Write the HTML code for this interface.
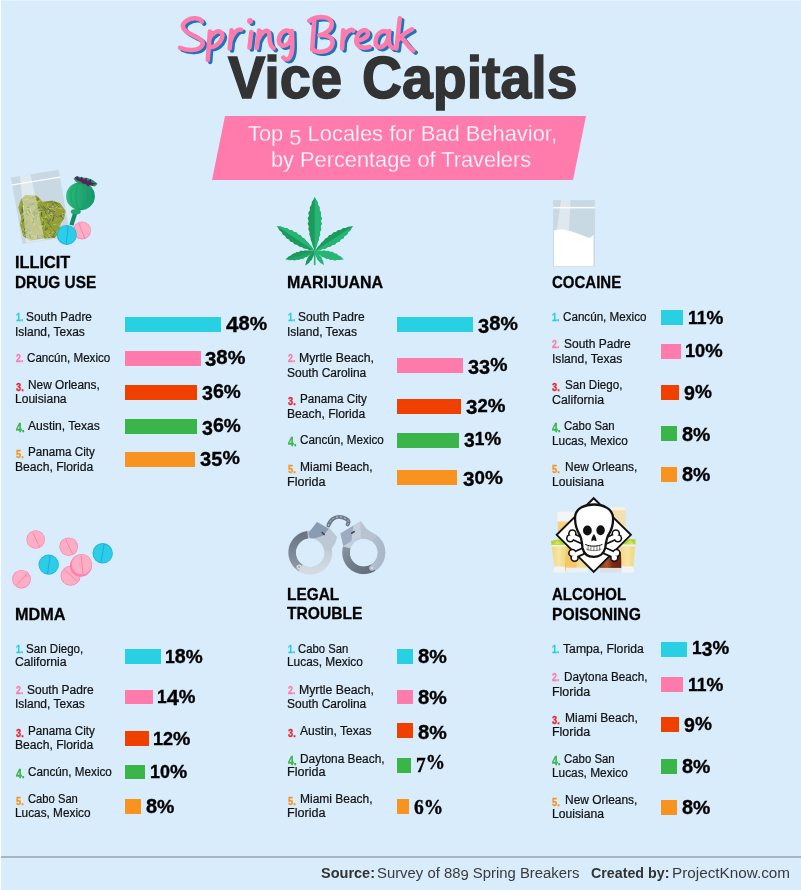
<!DOCTYPE html>
<html><head><meta charset="utf-8"><title>Spring Break Vice Capitals</title>
<style>
html,body{margin:0;padding:0}
body{width:801px;height:890px;position:relative;overflow:hidden;background:#d8ecfb;font-family:"Liberation Sans",sans-serif}
#txt{position:absolute;left:0;top:0;width:801px;height:890px;will-change:transform}
.t{position:absolute;white-space:nowrap;line-height:1;transform-origin:0 0;font-family:"Liberation Sans",sans-serif}
.t span{line-height:0}
.n{font-size:9px;font-weight:700;-webkit-text-stroke:0.3px currentColor;transform:scaleX(.88)}
.b{position:absolute}
.ic{position:absolute;left:0;top:0}
#edgeL{position:absolute;left:0;top:0;width:1px;height:890px;background:#fff}
#edgeT{position:absolute;left:0;top:0;width:801px;height:1px;background:#e6f3fd}
#rule{position:absolute;left:1px;top:856px;width:800px;height:2px;background:#a7b5c3}
#banner{position:absolute;left:0;top:0}
</style></head><body>
<div id="edgeT"></div><div id="edgeL"></div>
<svg id="banner" width="801" height="200" viewBox="0 0 801 200"><polygon points="225,116 586,116 573,180 212,180" fill="#ff7bac"/></svg>
<svg class="ic" width="801" height="120" viewBox="0 0 801 120" fill="none" stroke-linecap="round" stroke-linejoin="round">
<g transform="translate(2.4,2.0)" stroke="#1c75bc" stroke-width="4.5"><path d="M 201.8,21.6 C 200.0,17.7 191.9,16.7 185.9,21.2 C 180.5,25.3 182.7,29.7 189.8,33.6 C 197.9,37.8 205.4,40.4 201.8,45.9 C 198.6,51.3 186.2,50.8 180.1,47.8 M 209.9,31.5 L 207.8,59.9 M 209.4,39.1 C 211.9,32.9 218.7,29.0 221.6,32.9 C 224.5,37.5 218.7,46.5 209.4,47.5 M 231.5,30.3 L 229.7,48.5 M 230.4,41.0 C 232.3,34.5 237.2,28.0 241.1,29.7 M 251.3,31.9 L 249.5,47.5 M 259.1,30.6 L 256.8,48.0 M 257.6,41.0 C 260.1,34.2 266.1,28.0 268.7,31.9 C 270.6,35.5 267.7,44.8 273.5,48.2 M 290.6,32.9 C 287.2,28.0 280.4,31.6 279.1,38.4 C 277.8,45.2 283.9,48.2 288.5,43.3 C 291.1,40.1 291.7,35.8 292.0,31.0 C 292.0,40.7 293.7,52.4 289.5,57.9 C 287.8,60.2 284.6,59.5 283.3,57.6 M 309.3,20.9 C 316.1,16.0 330.1,15.1 331.7,22.9 C 332.8,29.3 325.8,33.6 319.3,35.2 C 327.5,34.2 334.3,37.5 332.2,44.9 C 329.9,52.4 317.7,53.7 312.4,49.1 M 314.3,19.9 L 312.2,49.5 M 343.2,30.3 L 342.1,48.5 M 342.4,41.0 C 344.5,34.2 349.5,27.7 353.3,30.6 M 357.0,40.5 C 363.2,40.1 369.0,36.8 367.7,32.3 C 366.4,28.4 359.9,29.3 357.0,36.8 C 354.2,44.3 359.9,49.8 369.5,46.9 M 388.0,33.1 C 384.3,28.4 377.0,32.6 375.8,40.1 C 374.5,47.5 381.0,49.8 385.9,43.3 C 388.0,40.1 388.8,35.8 389.3,31.0 C 388.3,39.4 388.3,47.7 393.8,48.0 M 399.8,18.3 L 396.4,48.5 M 412.0,29.3 C 407.0,31.8 400.5,36.8 397.9,40.1 M 401.3,37.3 C 405.4,41.0 408.6,47.5 413.3,50.6"/><circle cx="250.0" cy="20.9" r="1.2" fill="#1c75bc" stroke-width="3.6"/></g>
<g stroke="#ff7bac" stroke-width="4.5"><path d="M 201.8,21.6 C 200.0,17.7 191.9,16.7 185.9,21.2 C 180.5,25.3 182.7,29.7 189.8,33.6 C 197.9,37.8 205.4,40.4 201.8,45.9 C 198.6,51.3 186.2,50.8 180.1,47.8 M 209.9,31.5 L 207.8,59.9 M 209.4,39.1 C 211.9,32.9 218.7,29.0 221.6,32.9 C 224.5,37.5 218.7,46.5 209.4,47.5 M 231.5,30.3 L 229.7,48.5 M 230.4,41.0 C 232.3,34.5 237.2,28.0 241.1,29.7 M 251.3,31.9 L 249.5,47.5 M 259.1,30.6 L 256.8,48.0 M 257.6,41.0 C 260.1,34.2 266.1,28.0 268.7,31.9 C 270.6,35.5 267.7,44.8 273.5,48.2 M 290.6,32.9 C 287.2,28.0 280.4,31.6 279.1,38.4 C 277.8,45.2 283.9,48.2 288.5,43.3 C 291.1,40.1 291.7,35.8 292.0,31.0 C 292.0,40.7 293.7,52.4 289.5,57.9 C 287.8,60.2 284.6,59.5 283.3,57.6 M 309.3,20.9 C 316.1,16.0 330.1,15.1 331.7,22.9 C 332.8,29.3 325.8,33.6 319.3,35.2 C 327.5,34.2 334.3,37.5 332.2,44.9 C 329.9,52.4 317.7,53.7 312.4,49.1 M 314.3,19.9 L 312.2,49.5 M 343.2,30.3 L 342.1,48.5 M 342.4,41.0 C 344.5,34.2 349.5,27.7 353.3,30.6 M 357.0,40.5 C 363.2,40.1 369.0,36.8 367.7,32.3 C 366.4,28.4 359.9,29.3 357.0,36.8 C 354.2,44.3 359.9,49.8 369.5,46.9 M 388.0,33.1 C 384.3,28.4 377.0,32.6 375.8,40.1 C 374.5,47.5 381.0,49.8 385.9,43.3 C 388.0,40.1 388.8,35.8 389.3,31.0 C 388.3,39.4 388.3,47.7 393.8,48.0 M 399.8,18.3 L 396.4,48.5 M 412.0,29.3 C 407.0,31.8 400.5,36.8 397.9,40.1 M 401.3,37.3 C 405.4,41.0 408.6,47.5 413.3,50.6"/><circle cx="250.0" cy="20.9" r="1.2" fill="#ff7bac" stroke-width="3.6"/></g>
</svg>
<svg class="ic" width="801" height="890" viewBox="0 0 801 890"><polygon points="11.0,177.5 58.7,169.7 70.4,236.4 22.5,243.9" fill="#c9d9e4"/><clipPath id="wc"><polygon points="25.0,195.6 36.8,196.0 42.5,202.2 52.4,201.0 59.9,203.5 65.2,210.9 63.7,218.7 60.2,223.7 58.9,232.4 54.9,237.4 42.5,238.2 30.0,240.2 23.7,236.2 20.6,224.9 21.5,217.4 18.7,207.4 21.2,200.0"/></clipPath><polygon points="25.0,195.6 36.8,196.0 42.5,202.2 52.4,201.0 59.9,203.5 65.2,210.9 63.7,218.7 60.2,223.7 58.9,232.4 54.9,237.4 42.5,238.2 30.0,240.2 23.7,236.2 20.6,224.9 21.5,217.4 18.7,207.4 21.2,200.0" fill="#949f3a" stroke="#949f3a" stroke-width="0.8" stroke-linejoin="round"/><g clip-path="url(#wc)" stroke-linecap="round"><line x1="33.7" y1="202.3" x2="32.6" y2="204.4" stroke="#6c8230" stroke-width="1.0"/><line x1="45.7" y1="235.9" x2="47.6" y2="237.5" stroke="#b4bc52" stroke-width="1.0"/><line x1="22.9" y1="214.4" x2="20.7" y2="215.7" stroke="#a3ad45" stroke-width="1.0"/><line x1="45.7" y1="198.3" x2="45.0" y2="200.6" stroke="#4f6a2e" stroke-width="1.0"/><line x1="58.4" y1="208.4" x2="60.7" y2="209.5" stroke="#a3ad45" stroke-width="1.0"/><line x1="27.1" y1="221.4" x2="25.7" y2="224.3" stroke="#5f7a2a" stroke-width="1.0"/><line x1="44.8" y1="223.0" x2="44.8" y2="226.7" stroke="#c0c66a" stroke-width="1.0"/><line x1="45.8" y1="215.7" x2="48.4" y2="219.3" stroke="#b4bc52" stroke-width="1.0"/><line x1="22.5" y1="208.9" x2="22.6" y2="212.1" stroke="#4f6a2e" stroke-width="1.0"/><line x1="64.0" y1="200.8" x2="65.1" y2="205.0" stroke="#c0c66a" stroke-width="1.0"/><line x1="38.2" y1="238.2" x2="41.9" y2="239.1" stroke="#6c8230" stroke-width="1.0"/><line x1="34.4" y1="211.1" x2="34.5" y2="215.5" stroke="#5f7a2a" stroke-width="1.0"/><line x1="62.4" y1="216.6" x2="61.2" y2="218.7" stroke="#a3ad45" stroke-width="1.0"/><line x1="45.4" y1="225.8" x2="46.1" y2="229.9" stroke="#6c8230" stroke-width="1.0"/><line x1="19.8" y1="216.0" x2="22.0" y2="217.3" stroke="#76648a" stroke-width="1.0"/><line x1="54.2" y1="201.3" x2="56.6" y2="203.6" stroke="#5f7a2a" stroke-width="1.0"/><line x1="26.4" y1="213.4" x2="28.1" y2="215.4" stroke="#4f6a2e" stroke-width="1.0"/><line x1="31.6" y1="214.0" x2="33.6" y2="218.2" stroke="#b4bc52" stroke-width="1.0"/><line x1="22.6" y1="202.3" x2="21.5" y2="204.3" stroke="#b4bc52" stroke-width="1.0"/><line x1="30.9" y1="195.8" x2="31.7" y2="198.9" stroke="#b4bc52" stroke-width="1.0"/><line x1="50.6" y1="218.4" x2="49.1" y2="222.3" stroke="#76648a" stroke-width="1.0"/><line x1="60.3" y1="230.2" x2="56.2" y2="231.9" stroke="#c0c66a" stroke-width="1.0"/><line x1="36.9" y1="216.9" x2="37.8" y2="219.6" stroke="#c0c66a" stroke-width="1.0"/><line x1="26.2" y1="210.7" x2="28.4" y2="211.0" stroke="#5f7a2a" stroke-width="1.0"/><line x1="62.6" y1="222.8" x2="65.3" y2="223.4" stroke="#a3ad45" stroke-width="1.0"/><line x1="30.4" y1="211.0" x2="31.5" y2="213.3" stroke="#c0c66a" stroke-width="1.0"/><line x1="40.9" y1="209.4" x2="44.8" y2="211.3" stroke="#c0c66a" stroke-width="1.0"/><line x1="57.0" y1="202.7" x2="61.9" y2="203.1" stroke="#b4bc52" stroke-width="1.0"/><line x1="50.6" y1="236.1" x2="48.4" y2="238.2" stroke="#5f7a2a" stroke-width="1.0"/><line x1="50.9" y1="207.2" x2="52.0" y2="209.6" stroke="#4f6a2e" stroke-width="1.0"/><line x1="43.7" y1="217.9" x2="42.1" y2="221.4" stroke="#b4bc52" stroke-width="1.0"/><line x1="56.0" y1="231.9" x2="54.0" y2="233.9" stroke="#6c8230" stroke-width="1.0"/><line x1="52.5" y1="239.4" x2="49.7" y2="241.6" stroke="#4f6a2e" stroke-width="1.0"/><line x1="62.9" y1="215.4" x2="58.1" y2="216.4" stroke="#6c8230" stroke-width="1.0"/><line x1="22.5" y1="200.1" x2="22.8" y2="203.3" stroke="#4f6a2e" stroke-width="1.0"/><line x1="57.6" y1="216.8" x2="55.5" y2="220.8" stroke="#a3ad45" stroke-width="1.0"/><line x1="24.3" y1="212.8" x2="22.5" y2="215.0" stroke="#c0c66a" stroke-width="1.0"/><line x1="55.2" y1="210.3" x2="51.2" y2="213.2" stroke="#c0c66a" stroke-width="1.0"/><line x1="53.1" y1="199.4" x2="57.4" y2="201.7" stroke="#76648a" stroke-width="1.0"/><line x1="46.0" y1="216.2" x2="44.2" y2="219.7" stroke="#c0c66a" stroke-width="1.0"/><line x1="49.1" y1="211.1" x2="48.7" y2="213.7" stroke="#76648a" stroke-width="1.0"/><line x1="63.6" y1="224.4" x2="63.2" y2="229.2" stroke="#b4bc52" stroke-width="1.0"/><line x1="56.9" y1="204.9" x2="59.0" y2="207.1" stroke="#4f6a2e" stroke-width="1.0"/><line x1="33.8" y1="219.7" x2="31.7" y2="220.9" stroke="#c0c66a" stroke-width="1.0"/><line x1="49.3" y1="231.7" x2="49.1" y2="236.2" stroke="#b4bc52" stroke-width="1.0"/><line x1="43.3" y1="218.8" x2="46.7" y2="219.0" stroke="#5f7a2a" stroke-width="1.0"/><line x1="54.6" y1="202.2" x2="58.1" y2="203.9" stroke="#5f7a2a" stroke-width="1.0"/><line x1="33.8" y1="218.6" x2="33.0" y2="222.9" stroke="#4f6a2e" stroke-width="1.0"/><line x1="21.4" y1="204.1" x2="23.9" y2="204.4" stroke="#5f7a2a" stroke-width="1.0"/><line x1="53.8" y1="236.0" x2="54.5" y2="239.9" stroke="#4f6a2e" stroke-width="1.0"/><line x1="27.9" y1="207.9" x2="27.8" y2="212.3" stroke="#b4bc52" stroke-width="1.0"/><line x1="51.0" y1="234.4" x2="48.1" y2="235.0" stroke="#b4bc52" stroke-width="1.0"/><line x1="57.5" y1="201.7" x2="60.7" y2="203.0" stroke="#b4bc52" stroke-width="1.0"/><line x1="38.5" y1="205.0" x2="40.0" y2="207.1" stroke="#a3ad45" stroke-width="1.0"/><line x1="48.5" y1="211.8" x2="50.3" y2="213.7" stroke="#a3ad45" stroke-width="1.0"/><line x1="62.7" y1="213.2" x2="62.9" y2="218.2" stroke="#b4bc52" stroke-width="1.0"/><line x1="51.4" y1="239.6" x2="52.4" y2="242.9" stroke="#5f7a2a" stroke-width="1.0"/><line x1="52.1" y1="196.5" x2="51.5" y2="199.9" stroke="#76648a" stroke-width="1.0"/><line x1="34.0" y1="223.2" x2="34.0" y2="225.7" stroke="#b4bc52" stroke-width="1.0"/><line x1="63.6" y1="200.2" x2="65.2" y2="202.0" stroke="#6c8230" stroke-width="1.0"/><line x1="53.6" y1="231.9" x2="50.0" y2="233.8" stroke="#c0c66a" stroke-width="1.0"/><line x1="25.6" y1="236.3" x2="24.7" y2="240.4" stroke="#5f7a2a" stroke-width="1.0"/><line x1="55.7" y1="203.7" x2="52.8" y2="204.7" stroke="#76648a" stroke-width="1.0"/><line x1="22.8" y1="207.1" x2="21.9" y2="209.8" stroke="#5f7a2a" stroke-width="1.0"/><line x1="39.7" y1="210.6" x2="38.9" y2="215.3" stroke="#b4bc52" stroke-width="1.0"/><line x1="20.7" y1="227.0" x2="15.9" y2="228.0" stroke="#b4bc52" stroke-width="1.0"/><line x1="28.1" y1="209.4" x2="30.5" y2="213.0" stroke="#4f6a2e" stroke-width="1.0"/><line x1="49.8" y1="207.6" x2="45.7" y2="210.5" stroke="#76648a" stroke-width="1.0"/><line x1="19.6" y1="218.0" x2="15.9" y2="218.2" stroke="#c0c66a" stroke-width="1.0"/><line x1="23.6" y1="231.9" x2="24.4" y2="235.4" stroke="#c0c66a" stroke-width="1.0"/><line x1="63.6" y1="209.2" x2="65.8" y2="211.0" stroke="#a3ad45" stroke-width="1.0"/><line x1="52.4" y1="201.8" x2="47.5" y2="201.9" stroke="#5f7a2a" stroke-width="1.0"/><line x1="22.0" y1="228.4" x2="23.9" y2="230.4" stroke="#c0c66a" stroke-width="1.0"/><line x1="58.9" y1="225.3" x2="60.8" y2="227.6" stroke="#c0c66a" stroke-width="1.0"/><line x1="27.3" y1="207.5" x2="30.5" y2="207.5" stroke="#4f6a2e" stroke-width="1.0"/><line x1="33.7" y1="197.1" x2="31.0" y2="198.1" stroke="#6c8230" stroke-width="1.0"/><line x1="36.4" y1="216.6" x2="36.3" y2="219.4" stroke="#5f7a2a" stroke-width="1.0"/><line x1="22.9" y1="231.8" x2="26.4" y2="233.5" stroke="#6c8230" stroke-width="1.0"/><line x1="32.8" y1="205.9" x2="31.8" y2="209.5" stroke="#a3ad45" stroke-width="1.0"/><line x1="60.0" y1="230.3" x2="58.7" y2="234.5" stroke="#c0c66a" stroke-width="1.0"/><line x1="25.6" y1="227.7" x2="24.6" y2="229.8" stroke="#4f6a2e" stroke-width="1.0"/><line x1="47.7" y1="228.1" x2="45.5" y2="229.6" stroke="#4f6a2e" stroke-width="1.0"/><line x1="45.0" y1="231.6" x2="49.1" y2="231.8" stroke="#a3ad45" stroke-width="1.0"/><line x1="50.3" y1="226.3" x2="52.0" y2="227.9" stroke="#6c8230" stroke-width="1.0"/><line x1="63.1" y1="212.3" x2="63.4" y2="214.6" stroke="#76648a" stroke-width="1.0"/><line x1="43.3" y1="206.4" x2="45.6" y2="209.0" stroke="#4f6a2e" stroke-width="1.0"/><line x1="60.2" y1="199.7" x2="59.9" y2="203.9" stroke="#5f7a2a" stroke-width="1.0"/><line x1="57.8" y1="206.0" x2="55.7" y2="208.0" stroke="#c0c66a" stroke-width="1.0"/><line x1="41.5" y1="212.5" x2="41.8" y2="216.7" stroke="#4f6a2e" stroke-width="1.0"/><line x1="48.0" y1="204.4" x2="47.0" y2="207.4" stroke="#a3ad45" stroke-width="1.0"/><line x1="32.8" y1="220.7" x2="35.2" y2="220.8" stroke="#a3ad45" stroke-width="1.0"/><line x1="23.3" y1="205.2" x2="23.5" y2="209.4" stroke="#c0c66a" stroke-width="1.0"/><line x1="40.3" y1="200.8" x2="37.6" y2="201.8" stroke="#c0c66a" stroke-width="1.0"/><line x1="19.5" y1="215.9" x2="15.4" y2="218.6" stroke="#6c8230" stroke-width="1.0"/><line x1="36.6" y1="236.2" x2="34.2" y2="236.7" stroke="#a3ad45" stroke-width="1.0"/><line x1="42.9" y1="237.8" x2="47.1" y2="239.6" stroke="#5f7a2a" stroke-width="1.0"/><line x1="51.2" y1="205.8" x2="47.8" y2="207.0" stroke="#76648a" stroke-width="1.0"/><line x1="18.9" y1="217.4" x2="19.4" y2="220.4" stroke="#6c8230" stroke-width="1.0"/><line x1="36.1" y1="200.9" x2="37.7" y2="203.7" stroke="#c0c66a" stroke-width="1.0"/><line x1="24.3" y1="236.6" x2="21.3" y2="240.3" stroke="#6c8230" stroke-width="1.0"/><line x1="21.7" y1="212.9" x2="19.5" y2="213.9" stroke="#6c8230" stroke-width="1.0"/><line x1="58.2" y1="208.0" x2="62.2" y2="208.7" stroke="#b4bc52" stroke-width="1.0"/><line x1="30.2" y1="207.4" x2="30.2" y2="210.1" stroke="#c0c66a" stroke-width="1.0"/><line x1="59.6" y1="231.6" x2="57.7" y2="235.9" stroke="#4f6a2e" stroke-width="1.0"/><line x1="28.1" y1="199.2" x2="24.8" y2="199.9" stroke="#b4bc52" stroke-width="1.0"/><line x1="48.5" y1="208.3" x2="53.2" y2="209.0" stroke="#c0c66a" stroke-width="1.0"/><line x1="37.9" y1="208.1" x2="40.9" y2="211.2" stroke="#c0c66a" stroke-width="1.0"/><line x1="49.0" y1="208.9" x2="48.4" y2="212.2" stroke="#b4bc52" stroke-width="1.0"/><line x1="22.2" y1="217.8" x2="19.1" y2="219.9" stroke="#6c8230" stroke-width="1.0"/><line x1="64.8" y1="215.5" x2="67.3" y2="216.7" stroke="#6c8230" stroke-width="1.0"/><line x1="44.4" y1="209.7" x2="46.2" y2="213.8" stroke="#5f7a2a" stroke-width="1.0"/><line x1="53.4" y1="213.9" x2="54.3" y2="217.4" stroke="#6c8230" stroke-width="1.0"/><line x1="53.5" y1="217.7" x2="52.7" y2="220.8" stroke="#4f6a2e" stroke-width="1.0"/><line x1="47.8" y1="233.8" x2="50.1" y2="235.7" stroke="#c0c66a" stroke-width="1.0"/><line x1="48.6" y1="214.7" x2="51.1" y2="218.4" stroke="#b4bc52" stroke-width="1.0"/><line x1="20.2" y1="227.0" x2="16.9" y2="228.2" stroke="#5f7a2a" stroke-width="1.0"/><line x1="22.1" y1="236.8" x2="18.5" y2="237.6" stroke="#c0c66a" stroke-width="1.0"/><line x1="30.2" y1="200.4" x2="33.5" y2="202.1" stroke="#a3ad45" stroke-width="1.0"/><line x1="51.1" y1="233.1" x2="48.8" y2="233.9" stroke="#5f7a2a" stroke-width="1.0"/><line x1="54.9" y1="205.9" x2="51.0" y2="206.9" stroke="#b4bc52" stroke-width="1.0"/><line x1="47.7" y1="219.0" x2="48.5" y2="223.3" stroke="#6c8230" stroke-width="1.0"/><line x1="43.0" y1="221.4" x2="43.9" y2="224.1" stroke="#5f7a2a" stroke-width="1.0"/><line x1="43.6" y1="239.7" x2="45.6" y2="242.1" stroke="#b4bc52" stroke-width="1.0"/><line x1="40.7" y1="206.0" x2="44.2" y2="209.4" stroke="#6c8230" stroke-width="1.0"/><line x1="21.3" y1="204.2" x2="17.5" y2="205.6" stroke="#b4bc52" stroke-width="1.0"/><line x1="49.6" y1="236.6" x2="51.3" y2="238.1" stroke="#c0c66a" stroke-width="1.0"/><line x1="35.5" y1="213.2" x2="38.5" y2="213.2" stroke="#5f7a2a" stroke-width="1.0"/><line x1="28.2" y1="238.6" x2="30.7" y2="242.3" stroke="#b4bc52" stroke-width="1.0"/><line x1="31.0" y1="235.0" x2="34.7" y2="236.3" stroke="#b4bc52" stroke-width="1.0"/><line x1="41.1" y1="235.9" x2="45.0" y2="236.6" stroke="#5f7a2a" stroke-width="1.0"/><line x1="28.6" y1="238.8" x2="30.7" y2="239.8" stroke="#c0c66a" stroke-width="1.0"/><line x1="39.5" y1="227.1" x2="40.9" y2="229.3" stroke="#b4bc52" stroke-width="1.0"/><line x1="33.9" y1="203.8" x2="29.7" y2="204.7" stroke="#76648a" stroke-width="1.0"/><line x1="49.4" y1="212.4" x2="50.6" y2="215.3" stroke="#5f7a2a" stroke-width="1.0"/><line x1="22.3" y1="199.2" x2="23.5" y2="203.7" stroke="#b4bc52" stroke-width="1.0"/><line x1="36.3" y1="229.7" x2="38.8" y2="233.3" stroke="#a3ad45" stroke-width="1.0"/><line x1="40.6" y1="212.1" x2="37.9" y2="212.8" stroke="#c0c66a" stroke-width="1.0"/><line x1="20.1" y1="213.8" x2="16.5" y2="216.2" stroke="#76648a" stroke-width="1.0"/><line x1="20.3" y1="198.4" x2="17.5" y2="199.1" stroke="#4f6a2e" stroke-width="1.0"/><line x1="34.4" y1="207.7" x2="30.5" y2="208.2" stroke="#a3ad45" stroke-width="1.0"/><line x1="50.6" y1="236.5" x2="53.1" y2="239.9" stroke="#a3ad45" stroke-width="1.0"/><line x1="62.5" y1="198.5" x2="60.3" y2="199.8" stroke="#c0c66a" stroke-width="1.0"/><line x1="62.8" y1="212.7" x2="65.2" y2="215.1" stroke="#c0c66a" stroke-width="1.0"/><line x1="27.2" y1="231.2" x2="24.1" y2="234.5" stroke="#4f6a2e" stroke-width="1.0"/><line x1="29.6" y1="233.8" x2="30.2" y2="238.1" stroke="#4f6a2e" stroke-width="1.0"/><line x1="27.8" y1="229.0" x2="29.6" y2="230.7" stroke="#76648a" stroke-width="1.0"/><line x1="44.3" y1="210.0" x2="39.6" y2="210.3" stroke="#6c8230" stroke-width="1.0"/><line x1="47.6" y1="204.8" x2="48.8" y2="209.6" stroke="#b4bc52" stroke-width="1.0"/><line x1="29.6" y1="214.1" x2="28.0" y2="217.9" stroke="#a3ad45" stroke-width="1.0"/><line x1="53.8" y1="230.1" x2="55.6" y2="232.5" stroke="#6c8230" stroke-width="1.0"/><line x1="52.8" y1="204.4" x2="54.9" y2="206.5" stroke="#4f6a2e" stroke-width="1.0"/><line x1="27.4" y1="198.5" x2="29.5" y2="200.5" stroke="#a3ad45" stroke-width="1.0"/><line x1="56.1" y1="224.5" x2="53.5" y2="224.6" stroke="#b4bc52" stroke-width="1.0"/><line x1="57.6" y1="236.1" x2="60.6" y2="236.5" stroke="#b4bc52" stroke-width="1.0"/><line x1="46.5" y1="232.3" x2="48.5" y2="233.7" stroke="#b4bc52" stroke-width="1.0"/><line x1="39.5" y1="207.1" x2="35.8" y2="210.2" stroke="#4f6a2e" stroke-width="1.0"/><line x1="51.5" y1="211.1" x2="54.7" y2="211.5" stroke="#76648a" stroke-width="1.0"/><line x1="64.9" y1="197.3" x2="61.7" y2="200.8" stroke="#6c8230" stroke-width="1.0"/><line x1="37.6" y1="212.1" x2="36.7" y2="214.4" stroke="#76648a" stroke-width="1.0"/><line x1="41.6" y1="217.0" x2="42.9" y2="221.3" stroke="#b4bc52" stroke-width="1.0"/><line x1="48.3" y1="199.6" x2="51.9" y2="201.7" stroke="#6c8230" stroke-width="1.0"/><line x1="49.6" y1="214.1" x2="53.8" y2="214.8" stroke="#c0c66a" stroke-width="1.0"/><line x1="38.0" y1="233.9" x2="34.7" y2="233.9" stroke="#a3ad45" stroke-width="1.0"/><line x1="37.4" y1="237.3" x2="38.0" y2="240.0" stroke="#5f7a2a" stroke-width="1.0"/><line x1="37.5" y1="234.7" x2="37.8" y2="237.4" stroke="#76648a" stroke-width="1.0"/><line x1="44.2" y1="224.0" x2="41.8" y2="224.7" stroke="#6c8230" stroke-width="1.0"/><line x1="52.8" y1="203.2" x2="54.0" y2="205.6" stroke="#5f7a2a" stroke-width="1.0"/><line x1="23.8" y1="217.3" x2="19.7" y2="220.1" stroke="#b4bc52" stroke-width="1.0"/><line x1="57.4" y1="197.5" x2="54.4" y2="198.4" stroke="#a3ad45" stroke-width="1.0"/><line x1="36.7" y1="235.7" x2="35.0" y2="239.9" stroke="#b4bc52" stroke-width="1.0"/><line x1="47.4" y1="222.8" x2="50.3" y2="224.9" stroke="#5f7a2a" stroke-width="1.0"/><line x1="37.2" y1="218.5" x2="38.1" y2="221.0" stroke="#a3ad45" stroke-width="1.0"/><line x1="56.4" y1="204.1" x2="52.1" y2="205.8" stroke="#a3ad45" stroke-width="1.0"/><line x1="57.5" y1="200.8" x2="56.3" y2="204.4" stroke="#6c8230" stroke-width="1.0"/><line x1="48.7" y1="209.2" x2="51.1" y2="211.6" stroke="#4f6a2e" stroke-width="1.0"/><line x1="39.0" y1="196.6" x2="37.7" y2="200.0" stroke="#4f6a2e" stroke-width="1.0"/><line x1="54.8" y1="215.9" x2="57.8" y2="217.8" stroke="#b4bc52" stroke-width="1.0"/><line x1="35.3" y1="211.8" x2="32.3" y2="213.9" stroke="#5f7a2a" stroke-width="1.0"/><line x1="48.1" y1="199.2" x2="45.2" y2="202.5" stroke="#5f7a2a" stroke-width="1.0"/><line x1="53.5" y1="235.2" x2="51.4" y2="239.2" stroke="#76648a" stroke-width="1.0"/><line x1="21.8" y1="222.8" x2="20.3" y2="224.9" stroke="#c0c66a" stroke-width="1.0"/><line x1="32.0" y1="231.5" x2="28.7" y2="234.0" stroke="#b4bc52" stroke-width="1.0"/><line x1="21.8" y1="211.1" x2="19.8" y2="213.0" stroke="#6c8230" stroke-width="1.0"/><line x1="60.5" y1="215.8" x2="64.0" y2="219.3" stroke="#4f6a2e" stroke-width="1.0"/><line x1="30.9" y1="218.0" x2="32.1" y2="220.0" stroke="#b4bc52" stroke-width="1.0"/><line x1="48.1" y1="207.9" x2="49.8" y2="210.7" stroke="#6c8230" stroke-width="1.0"/><line x1="24.0" y1="219.1" x2="22.7" y2="222.1" stroke="#4f6a2e" stroke-width="1.0"/><line x1="42.8" y1="226.1" x2="40.0" y2="227.1" stroke="#c0c66a" stroke-width="1.0"/><line x1="52.8" y1="212.1" x2="54.1" y2="215.1" stroke="#6c8230" stroke-width="1.0"/><line x1="54.1" y1="215.2" x2="57.7" y2="217.4" stroke="#76648a" stroke-width="1.0"/></g><polygon points="20.0,176.0 30.6,174.4 44.7,239.9 26.2,242.7" fill="#ffffff" fill-opacity="0.42"/><line x1="11.5" y1="185.0" x2="60.1" y2="177.1" stroke="#ffffff" stroke-width="1.2"/><line x1="75.2" y1="213.1" x2="71.4" y2="225.2" stroke="#0f8a6a" stroke-width="4.2"/><defs><linearGradient id="pg" x1="0" y1="0" x2="1" y2="0"><stop offset="0" stop-color="#2dbb7a"/><stop offset="0.5" stop-color="#22a873"/><stop offset="1" stop-color="#17986a"/></linearGradient></defs><ellipse cx="80.5" cy="196.2" rx="14.4" ry="14" fill="url(#pg)"/><ellipse cx="79.1" cy="196.2" rx="9.0" ry="13.6" fill="none" stroke="#1a9668" stroke-width="0.6" opacity="0.7"/><ellipse cx="80.1" cy="196.2" rx="4.0" ry="13.6" fill="none" stroke="#1a9668" stroke-width="0.6" opacity="0.7"/><ellipse cx="81.3" cy="196.2" rx="6.0" ry="13.6" fill="none" stroke="#1a9668" stroke-width="0.6" opacity="0.7"/><ellipse cx="82.3" cy="196.2" rx="11.0" ry="13.6" fill="none" stroke="#1a9668" stroke-width="0.6" opacity="0.7"/><ellipse cx="75.8" cy="211.8" rx="5" ry="2.7" fill="#1fa86e"/><polygon points="73.4,178.7 78.0,176.5 82.4,177.5 87.4,178.1 92.4,179.7 97.6,183.7 94.9,186.5 91.1,185.6 87.4,187.2 83.7,185.0 79.9,183.7 76.2,181.9" fill="#1e9a5c"/><polygon points="74.4,177.5 77.4,176.0 79.9,179.0 81.8,176.5 83.9,180.0 86.1,177.5 87.6,181.2 90.9,179.0 91.4,182.5 96.8,183.7 92.4,184.7 94.3,186.2 89.9,185.0 88.0,186.5 85.5,183.7 83.0,183.7 80.5,181.5 77.4,180.6" fill="#5b1f5e"/><circle cx="82.0" cy="230.5" r="9.0" fill="#ff86ad"/><circle cx="82.2" cy="230.3" r="8.1" fill="#ffafc5"/><line x1="78.9" y1="223.3" x2="84.9" y2="238.7" stroke="#ff7aa6" stroke-width="0.9"/><circle cx="66.8" cy="234.9" r="10.0" fill="#1fb4df"/><circle cx="67.0" cy="234.7" r="9.1" fill="#2ccde6"/><line x1="68.2" y1="226.2" x2="66.2" y2="243.9" stroke="#1ba6e0" stroke-width="0.9"/></svg>
<svg class="ic" width="801" height="300" viewBox="0 0 801 300"><polygon points="314.7,251.2 312.9,252.6 310.9,254.1 309.7,255.6 308.0,257.3 307.4,259.2 306.2,261.2 305.9,263.3 305.4,265.5 307.2,264.2 309.0,263.0 310.4,261.1 311.9,259.8 312.7,257.6 313.7,255.9 314.2,253.5" fill="#1a9a5c"/><polygon points="314.7,251.2 312.9,252.6 310.9,254.1 309.7,255.6 308.0,257.3 307.4,259.2 306.2,261.2 305.9,263.3 305.4,265.5" fill="#1a9a5c"/><polygon points="314.7,251.2 315.2,253.4 315.7,255.8 316.7,257.4 317.5,259.6 319.0,260.9 320.3,262.7 322.1,263.8 323.9,265.1 323.5,262.9 323.1,260.8 322.0,258.9 321.4,257.0 319.7,255.4 318.5,253.9 316.5,252.5" fill="#27b574"/><polygon points="314.7,251.2 315.2,253.4 315.7,255.8 316.7,257.4 317.5,259.6 319.0,260.9 320.3,262.7 322.1,263.8 323.9,265.1" fill="#27b574"/><polygon points="314.7,251.2 312.4,250.9 309.6,250.6 307.8,250.7 305.1,250.4 303.4,251.0 300.7,250.8 299.1,251.9 296.5,252.0 295.1,253.3 292.6,253.9 291.1,255.4 288.8,256.4 287.3,258.0 285.5,259.4 287.8,259.8 289.9,260.3 292.4,260.0 294.4,260.5 296.8,259.7 298.8,260.1 301.1,258.8 303.0,258.9 305.2,257.3 307.0,257.0 309.1,255.3 310.7,254.5 312.9,252.7" fill="#1fa564"/><polygon points="314.7,251.2 312.4,250.9 309.6,250.6 307.8,250.7 305.1,250.4 303.4,251.0 300.7,250.8 299.1,251.9 296.5,252.0 295.1,253.3 292.6,253.9 291.1,255.4 288.8,256.4 287.3,258.0 285.5,259.4" fill="#1a9a5c"/><polygon points="314.7,251.2 316.6,252.7 318.7,254.4 320.3,255.2 322.5,256.9 324.2,257.3 326.4,258.8 328.3,258.7 330.6,259.9 332.6,259.5 334.9,260.4 337.0,259.8 339.5,260.1 341.5,259.5 343.8,259.2 342.0,257.7 340.5,256.2 338.2,255.2 336.8,253.7 334.3,253.2 332.8,251.8 330.2,251.7 328.7,250.7 326.0,250.9 324.3,250.3 321.6,250.7 319.8,250.5 317.0,250.9" fill="#27b574"/><polygon points="314.7,251.2 316.6,252.7 318.7,254.4 320.3,255.2 322.5,256.9 324.2,257.3 326.4,258.8 328.3,258.7 330.6,259.9 332.6,259.5 334.9,260.4 337.0,259.8 339.5,260.1 341.5,259.5 343.8,259.2" fill="#27b574"/><polygon points="314.7,251.2 313.1,249.0 311.2,246.3 309.8,244.9 307.9,242.2 306.2,241.1 304.3,238.4 302.4,237.7 300.4,235.1 298.3,234.7 296.2,232.3 294.0,232.1 291.7,230.0 289.3,229.9 286.8,228.1 284.5,228.1 281.7,226.7 279.4,226.5 276.7,226.0 278.3,228.2 279.3,230.2 281.7,232.3 282.6,234.4 285.2,236.1 286.2,238.2 289.0,239.5 290.1,241.5 293.1,242.5 294.3,244.3 297.5,245.1 298.9,246.6 302.1,247.3 303.7,248.4 307.0,249.1 308.9,249.9 312.1,250.6" fill="#1a9a5c"/><polygon points="314.7,251.2 313.1,249.0 311.2,246.3 309.8,244.9 307.9,242.2 306.2,241.1 304.3,238.4 302.4,237.7 300.4,235.1 298.3,234.7 296.2,232.3 294.0,232.1 291.7,230.0 289.3,229.9 286.8,228.1 284.5,228.1 281.7,226.7 279.4,226.5 276.7,226.0" fill="#27b574"/><polygon points="314.7,251.2 317.4,250.6 320.6,249.9 322.5,249.1 325.8,248.5 327.4,247.3 330.7,246.6 332.1,245.1 335.3,244.3 336.5,242.5 339.6,241.5 340.6,239.5 343.5,238.2 344.5,236.1 347.1,234.4 348.1,232.3 350.5,230.2 351.5,228.2 353.1,226.0 350.5,226.5 348.2,226.7 345.4,228.1 343.0,228.1 340.4,229.9 338.1,230.0 335.8,232.1 333.5,232.3 331.3,234.7 329.2,235.1 327.2,237.7 325.3,238.4 323.4,241.1 321.7,242.2 319.7,244.9 318.3,246.3 316.3,249.0" fill="#1a9a5c"/><polygon points="314.7,251.2 317.4,250.6 320.6,249.9 322.5,249.1 325.8,248.5 327.4,247.3 330.7,246.6 332.1,245.1 335.3,244.3 336.5,242.5 339.6,241.5 340.6,239.5 343.5,238.2 344.5,236.1 347.1,234.4 348.1,232.3 350.5,230.2 351.5,228.2 353.1,226.0" fill="#27b574"/><polygon points="314.7,251.2 315.7,248.5 317.0,245.2 317.4,243.1 318.8,239.7 318.8,237.7 320.2,234.3 319.8,232.2 321.3,228.9 320.5,226.8 321.8,223.4 320.8,221.4 321.9,218.0 320.5,216.0 321.1,212.6 319.5,210.5 319.6,207.2 318.0,205.1 317.5,201.7 316.0,199.7 314.7,197.0 313.4,199.7 311.9,201.7 311.4,205.1 309.8,207.2 309.9,210.5 308.3,212.6 309.0,216.0 307.6,218.0 308.7,221.4 307.6,223.4 308.9,226.8 308.2,228.9 309.6,232.2 309.2,234.3 310.6,237.7 310.6,239.7 312.0,243.1 312.5,245.2 313.7,248.5" fill="#1a9a5c"/><polygon points="314.7,251.2 315.7,248.5 317.0,245.2 317.4,243.1 318.8,239.7 318.8,237.7 320.2,234.3 319.8,232.2 321.3,228.9 320.5,226.8 321.8,223.4 320.8,221.4 321.9,218.0 320.5,216.0 321.1,212.6 319.5,210.5 319.6,207.2 318.0,205.1 317.5,201.7 316.0,199.7 314.7,197.0" fill="#27b574"/><rect x="313.9" y="250.7" width="1.6" height="14.4" fill="#27b574"/></svg>
<svg class="ic" width="801" height="300" viewBox="0 0 801 300">
<rect x="553.1" y="200.1" width="41.8" height="66.9" fill="#c8d9e4"/>
<polygon points="561.2,200.1 570.6,200.1 568.8,230.5 556.7,230.5" fill="#dfe7ef"/>
<rect x="553.1" y="206.9" width="41.8" height="1.5" fill="#ffffff"/>
<path d="M554,230.4 C559,229.2 565,229.3 571,231.2 C579,233.8 585,236.6 589.8,237.8 C591,237.5 592.5,236 593.5,234.8 L593.5,266.2 L554,266.2 Z" fill="#ffffff"/>
</svg>

<svg class="ic" width="801" height="890" viewBox="0 0 801 890"><circle cx="35.7" cy="539.5" r="9.3" fill="#ff86ad"/><circle cx="35.7" cy="539.5" r="8.5" fill="#ffafc5"/><line x1="32.7" y1="532.7" x2="39.5" y2="546.7" stroke="#ff7aa6" stroke-width="0.9"/><circle cx="68.7" cy="546.7" r="9.3" fill="#ff86ad"/><circle cx="68.7" cy="546.7" r="8.5" fill="#ffafc5"/><line x1="65.7" y1="539.5" x2="72.4" y2="553.7" stroke="#ff7aa6" stroke-width="0.9"/><circle cx="102.7" cy="553.3" r="10.2" fill="#1fb4df"/><circle cx="102.7" cy="553.3" r="9.4" fill="#2ccde6"/><line x1="104.2" y1="544.0" x2="100.9" y2="562.2" stroke="#1ba6e0" stroke-width="0.9"/><circle cx="48.7" cy="564.6" r="10.2" fill="#1fb4df"/><circle cx="48.7" cy="564.6" r="9.4" fill="#2ccde6"/><line x1="50.2" y1="555.2" x2="47.5" y2="573.9" stroke="#1ba6e0" stroke-width="0.9"/><circle cx="21.5" cy="579.2" r="9.3" fill="#ff86ad"/><circle cx="21.5" cy="579.2" r="8.5" fill="#ffafc5"/><line x1="16.2" y1="585.5" x2="27.5" y2="573.2" stroke="#ff7aa6" stroke-width="0.9"/><circle cx="70.6" cy="575.7" r="10.0" fill="#ff86ad"/><circle cx="70.6" cy="575.7" r="9.2" fill="#ffafc5"/><line x1="64.6" y1="569.4" x2="77.2" y2="581.7" stroke="#ff7aa6" stroke-width="0.9"/><circle cx="80.8" cy="565.9" r="10.9" fill="#ff7fa8"/><circle cx="81.6" cy="564.6" r="10.6" fill="#ff86ad"/><circle cx="81.7" cy="564.4" r="9.9" fill="#ffafc5"/><line x1="81.1" y1="555.7" x2="82.9" y2="573.6" stroke="#ff7aa6" stroke-width="0.9"/></svg>
<svg class="ic" width="801" height="890" viewBox="0 0 801 890"><defs>
<linearGradient id="cgL" x1="0" y1="0" x2="0" y2="1"><stop offset="0" stop-color="#66727f"/><stop offset="0.55" stop-color="#7d8996"/><stop offset="1" stop-color="#8f9ba8"/></linearGradient>
<linearGradient id="cgR" x1="0" y1="0" x2="1" y2="1"><stop offset="0" stop-color="#8996a3"/><stop offset="0.5" stop-color="#6f7b88"/><stop offset="1" stop-color="#5f6b78"/></linearGradient>
<linearGradient id="clL" x1="0" y1="0" x2="0" y2="1"><stop offset="0" stop-color="#b4c1d0"/><stop offset="1" stop-color="#d3dae2"/></linearGradient>
<linearGradient id="clR" x1="0" y1="0" x2="1" y2="0"><stop offset="0" stop-color="#c9d2dc"/><stop offset="1" stop-color="#a9b8ca"/></linearGradient>
</defs><path d="M 328.4,525.6 C 330.1,519.0 336.2,515.6 342.4,517.3 C 347.2,518.7 350.0,521.0 347.6,524.5" fill="none" stroke="#6c7986" stroke-width="3.9" stroke-linecap="round"/><path d="M 328.4,525.6 C 330.1,519.0 336.2,515.6 342.4,517.3 C 347.2,518.7 350.0,521.0 347.6,524.5" fill="none" stroke="#c3ccd6" stroke-width="1.0" stroke-dasharray="1.4 2.6" stroke-linecap="round"/><circle cx="310.2" cy="552.6" r="18.05" fill="none" stroke="url(#clL)" stroke-width="7.90"/><polygon points="298.7,571.0 297.6,570.3 296.5,569.5 295.5,568.6 294.5,567.7 293.7,566.7 292.8,565.7 292.1,564.6 291.4,563.5 290.7,562.3 290.2,561.1 289.7,559.9 289.3,558.6 289.0,557.3 288.7,556.0 288.6,554.7 288.5,553.4 288.5,552.1 288.5,550.7 288.7,549.4 288.9,548.1 289.2,546.8 289.6,545.6 290.1,544.3 290.6,543.1 291.3,541.9 292.0,540.8 292.7,539.7 293.5,538.7 294.4,537.7 295.4,536.8 296.3,535.9 297.4,535.1 298.5,534.3 299.6,533.7 300.8,533.0 302.0,532.5 303.3,532.1 304.5,531.7 305.8,531.4 307.1,531.1 308.2,538.7 307.3,538.8 306.5,539.0 305.7,539.3 304.9,539.6 304.1,539.9 303.3,540.3 302.6,540.7 301.9,541.2 301.2,541.8 300.5,542.3 299.9,542.9 299.4,543.6 298.8,544.2 298.3,545.0 297.9,545.7 297.5,546.5 297.1,547.2 296.8,548.0 296.6,548.9 296.4,549.7 296.2,550.5 296.1,551.4 296.1,552.3 296.1,553.1 296.1,554.0 296.2,554.8 296.4,555.7 296.6,556.5 296.9,557.3 297.2,558.1 297.5,558.9 297.9,559.7 298.4,560.4 298.9,561.1 299.4,561.8 300.0,562.4 300.6,563.0 301.3,563.6 302.0,564.1 302.7,564.6" fill="url(#cgL)"/><polygon points="308.4,533.3 317.0,522.1 329.8,528.6 337.2,537.1 334.9,544.0 330.1,550.6 323.2,549.2 311.5,538.9" fill="#bcc8d6"/><polygon points="308.4,533.3 317.0,522.1 328.7,528.9 323.2,535.5 316.3,537.9 310.2,538.5" fill="#8a9cb2"/><circle cx="310.2" cy="552.6" r="14.1" fill="#d8ecfb"/><rect x="321.0" y="532.7" width="4.4" height="1.6" rx="0.8" fill="#3b4148" transform="rotate(45 323.2 533.5)"/><circle cx="299.2" cy="567.1" r="2.7" fill="#d3d9df"/><rect x="298.4" y="566.3" width="1.6" height="1.6" fill="#9aa5b0"/><circle cx="363.7" cy="552.6" r="17.70" fill="none" stroke="url(#clR)" stroke-width="8.00"/><polygon points="375.1,570.8 373.9,571.4 372.8,572.0 371.6,572.5 370.4,573.0 369.1,573.3 367.8,573.6 366.6,573.8 365.3,574.0 364.0,574.0 362.7,574.0 361.4,573.9 360.1,573.7 358.8,573.5 357.6,573.1 356.3,572.7 355.1,572.2 354.0,571.7 352.8,571.1 351.7,570.4 350.7,569.6 349.7,568.8 348.7,567.9 347.8,567.0 347.0,566.0 346.2,564.9 345.5,563.9 344.8,562.7 344.3,561.6 343.8,560.4 343.3,559.2 343.0,557.9 342.7,556.6 342.5,555.4 342.4,554.1 342.3,552.8 342.3,551.5 342.5,550.2 342.6,548.9 342.9,547.6 343.2,546.4 350.6,548.6 350.4,549.4 350.2,550.2 350.1,551.1 350.0,551.9 350.0,552.7 350.0,553.6 350.1,554.4 350.3,555.2 350.4,556.0 350.7,556.8 350.9,557.6 351.3,558.4 351.6,559.1 352.0,559.8 352.5,560.5 353.0,561.2 353.5,561.8 354.1,562.4 354.7,563.0 355.4,563.5 356.0,564.0 356.7,564.4 357.5,564.8 358.2,565.2 359.0,565.5 359.8,565.8 360.6,566.0 361.4,566.1 362.2,566.3 363.1,566.3 363.9,566.3 364.7,566.3 365.5,566.2 366.4,566.1 367.2,565.9 368.0,565.7 368.7,565.4 369.5,565.0 370.3,564.7 371.0,564.2" fill="url(#cgR)"/><polygon points="340.4,533.4 353.4,525.6 360.6,521.0 366.0,528.6 375.4,534.8 369.9,541.0 358.9,537.5 350.7,542.3 343.4,546.2" fill="#c6d0db"/><polygon points="340.4,533.4 353.4,525.6 351.4,541.0 343.4,546.2" fill="#9dadc1"/><polygon points="360.6,521.0 366.0,528.6 376.8,536.2 369.9,542.3 361.0,537.5" fill="#b7c3d1"/><circle cx="363.7" cy="552.6" r="13.7" fill="#d8ecfb"/><rect x="350.7" y="531.6" width="4.4" height="1.6" rx="0.8" fill="#3b4148" transform="rotate(-30 352.9 532.4)"/><circle cx="372.0" cy="568.0" r="2.8" fill="#b4c0cd"/><rect x="371.2" y="567.2" width="1.6" height="1.6" fill="#e8ecef"/></svg>
<svg class="ic" width="801" height="890" viewBox="0 0 801 890"><defs>
<linearGradient id="beer" x1="0" y1="0" x2="0" y2="1"><stop offset="0" stop-color="#f7d98e"/><stop offset="1" stop-color="#f3b94e"/></linearGradient>
<linearGradient id="cola" x1="0" y1="0" x2="1" y2="0"><stop offset="0" stop-color="#8d3518"/><stop offset="0.35" stop-color="#b0542a"/><stop offset="0.6" stop-color="#7a2813"/><stop offset="1" stop-color="#6a200f"/></linearGradient>
<linearGradient id="shot" x1="0" y1="0" x2="1" y2="0"><stop offset="0" stop-color="#f0d982"/><stop offset="0.5" stop-color="#f6e6a4"/><stop offset="1" stop-color="#efd67c"/></linearGradient>
</defs><polygon points="557.2,511.7 574.7,511.7 573.5,571.7 559.7,571.7" fill="url(#beer)"/><rect x="557.2" y="511.5" width="17.5" height="10.0" fill="#f3f5f7" rx="1"/><polygon points="610.2,507.7 625.5,507.7 626.1,557.9 610.5,557.9" fill="#f3e0b2"/><rect x="610.2" y="507.2" width="15.4" height="3.0" fill="#f6f1e8" rx="1"/><polygon points="565.0,546.7 577.7,546.7 576.8,567.9 566.0,567.9" fill="#f7c766"/><rect x="566.0" y="567.7" width="10.9" height="4.6" fill="#eef1f3" /><polygon points="576.2,555.4 588.1,555.4 586.8,567.9 577.2,567.9" fill="#f1dd92"/><rect x="577.2" y="567.7" width="10.9" height="4.6" fill="#eef1f3" /><polygon points="598.9,551.7 621.8,551.7 621.2,568.2 599.7,568.2" fill="url(#cola)"/><rect x="599.7" y="567.9" width="21.5" height="4.5" fill="#dde1e4" /><polygon points="551.0,541.1 557.5,539.4 563.7,541.1 565.0,545.2 551.5,545.2" fill="#b5d334"/><polygon points="553.7,544.2 557.5,540.7 561.2,544.2" fill="#cfe36a"/><polygon points="551.5,545.2 566.5,545.2 565.0,566.7 554.4,566.7" fill="url(#shot)"/><rect x="551.5" y="544.9" width="15.0" height="1.7" fill="#f4f1dc" /><polygon points="554.4,566.4 565.0,566.4 565.6,572.4 553.5,572.4" fill="#f2f4f6"/><polygon points="623.0,541.1 629.9,538.9 635.5,539.4 635.5,544.4 622.4,544.4" fill="#b5d334"/><polygon points="626.1,543.9 630.5,540.2 633.9,543.9" fill="#cfe36a"/><polygon points="619.9,544.8 635.1,544.8 633.4,566.7 622.2,566.7" fill="url(#shot)"/><rect x="619.9" y="544.6" width="15.2" height="1.9" fill="#f4f1dc" /><polygon points="622.2,566.4 633.4,566.4 633.9,572.4 621.4,572.4" fill="#f2f4f6"/><polygon points="593.7,498.2 630.9,534.8 593.7,572.0 556.7,534.8" fill="#ffffff" stroke="#111" stroke-width="1.9" stroke-linejoin="miter"/><line x1="571.8" y1="536.1" x2="614.9" y2="555.2" stroke="#111" stroke-width="7.6"/><circle cx="572.4" cy="533.5" r="4.3" fill="#111"/><circle cx="570.3" cy="538.2" r="4.3" fill="#111"/><circle cx="616.4" cy="553.0" r="4.3" fill="#111"/><circle cx="614.3" cy="557.8" r="4.3" fill="#111"/><line x1="616.4" y1="536.1" x2="574.0" y2="555.2" stroke="#111" stroke-width="7.6"/><circle cx="617.9" cy="538.2" r="4.3" fill="#111"/><circle cx="615.8" cy="533.5" r="4.3" fill="#111"/><circle cx="574.6" cy="557.7" r="4.3" fill="#111"/><circle cx="572.4" cy="553.0" r="4.3" fill="#111"/><line x1="571.8" y1="536.1" x2="614.9" y2="555.2" stroke="#fff" stroke-width="4.2"/><circle cx="572.4" cy="533.5" r="2.7" fill="#fff"/><circle cx="570.3" cy="538.2" r="2.7" fill="#fff"/><circle cx="616.4" cy="553.0" r="2.7" fill="#fff"/><circle cx="614.3" cy="557.8" r="2.7" fill="#fff"/><line x1="616.4" y1="536.1" x2="574.0" y2="555.2" stroke="#fff" stroke-width="4.2"/><circle cx="617.9" cy="538.2" r="2.7" fill="#fff"/><circle cx="615.8" cy="533.5" r="2.7" fill="#fff"/><circle cx="574.6" cy="557.7" r="2.7" fill="#fff"/><circle cx="572.4" cy="553.0" r="2.7" fill="#fff"/><path d="M 579.7,534.8 C 576.2,529.2 574.7,522.3 575.2,516.1 C 576.2,508.0 585.0,504.5 593.9,504.5 C 603.1,504.5 612.2,508.6 613.0,517.3 C 613.4,523.6 611.8,529.8 608.4,534.8 C 606.4,538.6 605.9,542.9 605.2,547.9 C 603.7,554.2 598.7,556.9 593.7,556.9 C 588.7,556.9 584.0,554.2 582.5,547.9 C 582.0,542.9 581.7,538.6 579.7,534.8 Z " fill="#fff" stroke="#111" stroke-width="2.3" stroke-linejoin="round"/><ellipse cx="587.4" cy="530.5" rx="4.4" ry="5.0" fill="#111"/><ellipse cx="600.6" cy="530.2" rx="4.2" ry="5.0" fill="#111"/><path d="M 593.9,533.9 C 592.4,536.1 590.9,539.2 591.4,541.2 L 593.7,540.2 596.4,541.2 C 596.9,539.2 595.4,536.1 593.9,533.9 Z " fill="#111"/><path d="M 585.2,544.4 C 589.9,546.7 597.4,546.7 602.4,544.4" fill="none" stroke="#111" stroke-width="1.0"/><path d="M 586.2,548.9 C 590.6,551.2 597.4,551.2 601.4,548.9" fill="none" stroke="#555" stroke-width="0.7"/><line x1="588.1" y1="545.7" x2="588.1" y2="550.7" stroke="#444" stroke-width="0.7"/><line x1="590.9" y1="545.7" x2="590.9" y2="550.7" stroke="#444" stroke-width="0.7"/><line x1="593.9" y1="545.7" x2="593.9" y2="550.7" stroke="#444" stroke-width="0.7"/><line x1="596.9" y1="545.7" x2="596.9" y2="550.7" stroke="#444" stroke-width="0.7"/><line x1="599.7" y1="545.7" x2="599.7" y2="550.7" stroke="#444" stroke-width="0.7"/></svg>
<div id="rule"></div>
<div class="b" style="left:125px;top:317.3px;width:96.0px;height:15.0px;background:#29d0e4"></div>
<div class="b" style="left:125px;top:350.7px;width:76.0px;height:15.0px;background:#ff7bac"></div>
<div class="b" style="left:125px;top:385.0px;width:72.0px;height:14.7px;background:#f04000"></div>
<div class="b" style="left:125px;top:419.3px;width:72.0px;height:14.4px;background:#39b54a"></div>
<div class="b" style="left:125px;top:452.3px;width:70.0px;height:14.7px;background:#f7931e"></div>
<div class="b" style="left:397px;top:317.3px;width:76.0px;height:15.0px;background:#29d0e4"></div>
<div class="b" style="left:397px;top:358.3px;width:66.0px;height:14.4px;background:#ff7bac"></div>
<div class="b" style="left:397px;top:399.0px;width:64.0px;height:14.7px;background:#f04000"></div>
<div class="b" style="left:397px;top:432.7px;width:62.3px;height:15.0px;background:#39b54a"></div>
<div class="b" style="left:397px;top:470.0px;width:60.0px;height:15.0px;background:#f7931e"></div>
<div class="b" style="left:661px;top:310.0px;width:22.0px;height:15.0px;background:#29d0e4"></div>
<div class="b" style="left:661px;top:344.0px;width:20.0px;height:15.0px;background:#ff7bac"></div>
<div class="b" style="left:661px;top:385.0px;width:18.0px;height:15.0px;background:#f04000"></div>
<div class="b" style="left:661px;top:426.0px;width:16.0px;height:15.0px;background:#39b54a"></div>
<div class="b" style="left:661px;top:467.3px;width:16.0px;height:15.0px;background:#f7931e"></div>
<div class="b" style="left:125px;top:649.0px;width:36.0px;height:14.7px;background:#29d0e4"></div>
<div class="b" style="left:125px;top:689.7px;width:28.0px;height:14.6px;background:#ff7bac"></div>
<div class="b" style="left:125px;top:731.0px;width:24.0px;height:14.7px;background:#f04000"></div>
<div class="b" style="left:125px;top:764.7px;width:20.3px;height:14.6px;background:#39b54a"></div>
<div class="b" style="left:125px;top:799.0px;width:16.3px;height:14.7px;background:#f7931e"></div>
<div class="b" style="left:397px;top:649.0px;width:16.0px;height:14.7px;background:#29d0e4"></div>
<div class="b" style="left:397px;top:689.7px;width:16.0px;height:14.6px;background:#ff7bac"></div>
<div class="b" style="left:397px;top:723.3px;width:16.0px;height:15.0px;background:#f04000"></div>
<div class="b" style="left:397px;top:758.0px;width:14.0px;height:14.7px;background:#39b54a"></div>
<div class="b" style="left:397px;top:799.0px;width:12.3px;height:14.7px;background:#f7931e"></div>
<div class="b" style="left:661px;top:641.7px;width:26.0px;height:15.0px;background:#29d0e4"></div>
<div class="b" style="left:661px;top:677.0px;width:22.0px;height:15.0px;background:#ff7bac"></div>
<div class="b" style="left:661px;top:717.3px;width:18.0px;height:15.0px;background:#f04000"></div>
<div class="b" style="left:661px;top:759.0px;width:16.0px;height:14.7px;background:#39b54a"></div>
<div class="b" style="left:661px;top:799.7px;width:16.0px;height:15.0px;background:#f7931e"></div>
<div id="txt">
<span class="t" style="left:26.36px;top:310.92px;font-size:12.5px;color:#111;transform:scaleX(0.9491);-webkit-text-stroke:0.22px #111;">South Padre</span>
<span class="t" style="left:15.06px;top:325.52px;font-size:12.5px;color:#111;transform:scaleX(0.9605);-webkit-text-stroke:0.22px #111;">Island, Texas</span>
<span class="t" style="left:226.40px;top:313.89px;font-size:19.5px;font-weight:700;color:#000;transform:scaleX(1.0274);-webkit-text-stroke:0.35px #000;"><span style="font-size:22px;position:relative;top:2.5px">4</span><span style="font-size:19.5px;position:relative;top:0px">8</span><span style="font-size:19px;position:relative;top:0px">%</span></span>
<span class="t" style="left:27.36px;top:352.22px;font-size:12.5px;color:#111;transform:scaleX(0.9290);-webkit-text-stroke:0.22px #111;">Cancún, Mexico</span>
<span class="t" style="left:205.40px;top:347.89px;font-size:19.5px;font-weight:700;color:#000;transform:scaleX(1.0463);-webkit-text-stroke:0.35px #000;"><span style="font-size:19.5px;position:relative;top:2.3px">3</span><span style="font-size:19.5px;position:relative;top:0px">8</span><span style="font-size:19px;position:relative;top:0px">%</span></span>
<span class="t" style="left:28.06px;top:378.92px;font-size:12.5px;color:#111;transform:scaleX(0.9489);-webkit-text-stroke:0.22px #111;">New Orleans,</span>
<span class="t" style="left:15.06px;top:392.92px;font-size:12.5px;color:#111;transform:scaleX(0.9635);-webkit-text-stroke:0.22px #111;">Louisiana</span>
<span class="t" style="left:202.00px;top:381.69px;font-size:19.5px;font-weight:700;color:#000;transform:scaleX(1.0049);-webkit-text-stroke:0.35px #000;"><span style="font-size:19.5px;position:relative;top:2.3px">3</span><span style="font-size:19.5px;position:relative;top:0px">6</span><span style="font-size:19px;position:relative;top:0px">%</span></span>
<span class="t" style="left:27.76px;top:420.22px;font-size:12.5px;color:#111;transform:scaleX(0.9695);-webkit-text-stroke:0.22px #111;">Austin, Texas</span>
<span class="t" style="left:202.00px;top:416.49px;font-size:19.5px;font-weight:700;color:#000;transform:scaleX(1.0049);-webkit-text-stroke:0.35px #000;"><span style="font-size:19.5px;position:relative;top:2.3px">3</span><span style="font-size:19.5px;position:relative;top:0px">6</span><span style="font-size:19px;position:relative;top:0px">%</span></span>
<span class="t" style="left:28.06px;top:446.22px;font-size:12.5px;color:#111;transform:scaleX(0.9343);-webkit-text-stroke:0.22px #111;">Panama City</span>
<span class="t" style="left:15.06px;top:460.92px;font-size:12.5px;color:#111;transform:scaleX(0.9709);-webkit-text-stroke:0.22px #111;">Beach, Florida</span>
<span class="t" style="left:199.70px;top:447.99px;font-size:19.5px;font-weight:700;color:#000;transform:scaleX(1.0307);-webkit-text-stroke:0.35px #000;"><span style="font-size:19.5px;position:relative;top:2.3px">3</span><span style="font-size:19.5px;position:relative;top:2.3px">5</span><span style="font-size:19px;position:relative;top:0px">%</span></span>
<span class="t" style="left:298.36px;top:310.92px;font-size:12.5px;color:#111;transform:scaleX(0.9577);-webkit-text-stroke:0.22px #111;">South Padre</span>
<span class="t" style="left:287.06px;top:325.52px;font-size:12.5px;color:#111;transform:scaleX(0.9633);-webkit-text-stroke:0.22px #111;">Island, Texas</span>
<span class="t" style="left:478.00px;top:314.29px;font-size:19.5px;font-weight:700;color:#000;transform:scaleX(1.0307);-webkit-text-stroke:0.35px #000;"><span style="font-size:19.5px;position:relative;top:2.3px">3</span><span style="font-size:19.5px;position:relative;top:0px">8</span><span style="font-size:19px;position:relative;top:0px">%</span></span>
<span class="t" style="left:299.36px;top:352.22px;font-size:12.5px;color:#111;transform:scaleX(0.9809);-webkit-text-stroke:0.22px #111;">Myrtle Beach,</span>
<span class="t" style="left:287.06px;top:366.92px;font-size:12.5px;color:#111;transform:scaleX(0.9584);-webkit-text-stroke:0.22px #111;">South Carolina</span>
<span class="t" style="left:467.70px;top:355.29px;font-size:19.5px;font-weight:700;color:#000;transform:scaleX(1.0204);-webkit-text-stroke:0.35px #000;"><span style="font-size:19.5px;position:relative;top:2.3px">3</span><span style="font-size:19.5px;position:relative;top:2.3px">3</span><span style="font-size:19px;position:relative;top:0px">%</span></span>
<span class="t" style="left:300.06px;top:392.92px;font-size:12.5px;color:#111;transform:scaleX(0.9343);-webkit-text-stroke:0.22px #111;">Panama City</span>
<span class="t" style="left:287.06px;top:407.52px;font-size:12.5px;color:#111;transform:scaleX(0.9709);-webkit-text-stroke:0.22px #111;">Beach, Florida</span>
<span class="t" style="left:465.70px;top:395.79px;font-size:19.5px;font-weight:700;color:#000;transform:scaleX(1.0493);-webkit-text-stroke:0.35px #000;"><span style="font-size:19.5px;position:relative;top:2.3px">3</span><span style="font-size:17.6px;position:relative;top:0px">2</span><span style="font-size:19px;position:relative;top:0px">%</span></span>
<span class="t" style="left:299.76px;top:433.52px;font-size:12.5px;color:#111;transform:scaleX(0.9357);-webkit-text-stroke:0.22px #111;">Cancún, Mexico</span>
<span class="t" style="left:464.00px;top:428.89px;font-size:19.5px;font-weight:700;color:#000;transform:scaleX(0.9880);-webkit-text-stroke:0.35px #000;"><span style="font-size:19.5px;position:relative;top:2.3px">3</span><span style="font-size:17.6px;position:relative;top:0px">1</span><span style="font-size:19px;position:relative;top:0px">%</span></span>
<span class="t" style="left:300.06px;top:461.22px;font-size:12.5px;color:#111;transform:scaleX(0.9581);-webkit-text-stroke:0.22px #111;">Miami Beach,</span>
<span class="t" style="left:287.06px;top:475.52px;font-size:12.5px;color:#111;transform:scaleX(1.0090);-webkit-text-stroke:0.22px #111;">Florida</span>
<span class="t" style="left:463.00px;top:467.99px;font-size:19.5px;font-weight:700;color:#000;transform:scaleX(1.0599);-webkit-text-stroke:0.35px #000;"><span style="font-size:19.5px;position:relative;top:2.3px">3</span><span style="font-size:17.6px;position:relative;top:0px">0</span><span style="font-size:19px;position:relative;top:0px">%</span></span>
<span class="t" style="left:562.86px;top:310.92px;font-size:12.5px;color:#111;transform:scaleX(0.9312);-webkit-text-stroke:0.22px #111;">Cancún, Mexico</span>
<span class="t" style="left:687.70px;top:307.59px;font-size:19.5px;font-weight:700;color:#000;transform:scaleX(0.9967);-webkit-text-stroke:0.35px #000;"><span style="font-size:17.6px;position:relative;top:0px">1</span><span style="font-size:17.6px;position:relative;top:0px">1</span><span style="font-size:19px;position:relative;top:0px">%</span></span>
<span class="t" style="left:563.86px;top:337.92px;font-size:12.5px;color:#111;transform:scaleX(0.9606);-webkit-text-stroke:0.22px #111;">South Padre</span>
<span class="t" style="left:551.56px;top:352.52px;font-size:12.5px;color:#111;transform:scaleX(0.9674);-webkit-text-stroke:0.22px #111;">Island, Texas</span>
<span class="t" style="left:685.40px;top:341.29px;font-size:19.5px;font-weight:700;color:#000;transform:scaleX(1.0332);-webkit-text-stroke:0.35px #000;"><span style="font-size:17.6px;position:relative;top:0px">1</span><span style="font-size:17.6px;position:relative;top:0px">0</span><span style="font-size:19px;position:relative;top:0px">%</span></span>
<span class="t" style="left:564.56px;top:378.92px;font-size:12.5px;color:#111;transform:scaleX(0.9273);-webkit-text-stroke:0.22px #111;">San Diego,</span>
<span class="t" style="left:551.56px;top:393.52px;font-size:12.5px;color:#111;transform:scaleX(0.9858);-webkit-text-stroke:0.22px #111;">California</span>
<span class="t" style="left:683.70px;top:381.89px;font-size:19.5px;font-weight:700;color:#000;transform:scaleX(1.0017);-webkit-text-stroke:0.35px #000;"><span style="font-size:19.5px;position:relative;top:2.3px">9</span><span style="font-size:19px;position:relative;top:0px">%</span></span>
<span class="t" style="left:564.26px;top:420.22px;font-size:12.5px;color:#111;transform:scaleX(0.9110);-webkit-text-stroke:0.22px #111;">Cabo San</span>
<span class="t" style="left:551.56px;top:434.52px;font-size:12.5px;color:#111;transform:scaleX(0.9481);-webkit-text-stroke:0.22px #111;">Lucas, Mexico</span>
<span class="t" style="left:681.70px;top:424.59px;font-size:19.5px;font-weight:700;color:#000;transform:scaleX(1.0233);-webkit-text-stroke:0.35px #000;"><span style="font-size:19.5px;position:relative;top:0px">8</span><span style="font-size:19px;position:relative;top:0px">%</span></span>
<span class="t" style="left:564.56px;top:461.22px;font-size:12.5px;color:#111;transform:scaleX(0.9555);-webkit-text-stroke:0.22px #111;">New Orleans,</span>
<span class="t" style="left:551.56px;top:475.52px;font-size:12.5px;color:#111;transform:scaleX(0.9728);-webkit-text-stroke:0.22px #111;">Louisiana</span>
<span class="t" style="left:681.70px;top:465.09px;font-size:19.5px;font-weight:700;color:#000;transform:scaleX(1.0233);-webkit-text-stroke:0.35px #000;"><span style="font-size:19.5px;position:relative;top:0px">8</span><span style="font-size:19px;position:relative;top:0px">%</span></span>
<span class="t" style="left:26.36px;top:642.92px;font-size:12.5px;color:#111;transform:scaleX(0.9257);-webkit-text-stroke:0.22px #111;">San Diego,</span>
<span class="t" style="left:15.06px;top:656.22px;font-size:12.5px;color:#111;transform:scaleX(0.9763);-webkit-text-stroke:0.22px #111;">California</span>
<span class="t" style="left:165.40px;top:646.79px;font-size:19.5px;font-weight:700;color:#000;transform:scaleX(1.0040);-webkit-text-stroke:0.35px #000;"><span style="font-size:17.6px;position:relative;top:0px">1</span><span style="font-size:19.5px;position:relative;top:0px">8</span><span style="font-size:19px;position:relative;top:0px">%</span></span>
<span class="t" style="left:27.36px;top:683.52px;font-size:12.5px;color:#111;transform:scaleX(0.9577);-webkit-text-stroke:0.22px #111;">South Padre</span>
<span class="t" style="left:15.06px;top:697.52px;font-size:12.5px;color:#111;transform:scaleX(0.9605);-webkit-text-stroke:0.22px #111;">Island, Texas</span>
<span class="t" style="left:157.40px;top:686.79px;font-size:19.5px;font-weight:700;color:#000;transform:scaleX(0.9861);-webkit-text-stroke:0.35px #000;"><span style="font-size:17.6px;position:relative;top:0px">1</span><span style="font-size:22px;position:relative;top:2.5px">4</span><span style="font-size:19px;position:relative;top:0px">%</span></span>
<span class="t" style="left:28.06px;top:725.22px;font-size:12.5px;color:#111;transform:scaleX(0.9343);-webkit-text-stroke:0.22px #111;">Panama City</span>
<span class="t" style="left:15.06px;top:738.92px;font-size:12.5px;color:#111;transform:scaleX(0.9709);-webkit-text-stroke:0.22px #111;">Beach, Florida</span>
<span class="t" style="left:153.40px;top:728.69px;font-size:19.5px;font-weight:700;color:#000;transform:scaleX(1.0250);-webkit-text-stroke:0.35px #000;"><span style="font-size:17.6px;position:relative;top:0px">1</span><span style="font-size:17.6px;position:relative;top:0px">2</span><span style="font-size:19px;position:relative;top:0px">%</span></span>
<span class="t" style="left:27.76px;top:765.92px;font-size:12.5px;color:#111;transform:scaleX(0.9357);-webkit-text-stroke:0.22px #111;">Cancún, Mexico</span>
<span class="t" style="left:149.70px;top:761.99px;font-size:19.5px;font-weight:700;color:#000;transform:scaleX(1.0168);-webkit-text-stroke:0.35px #000;"><span style="font-size:17.6px;position:relative;top:0px">1</span><span style="font-size:17.6px;position:relative;top:0px">0</span><span style="font-size:19px;position:relative;top:0px">%</span></span>
<span class="t" style="left:28.06px;top:792.92px;font-size:12.5px;color:#111;transform:scaleX(0.8967);-webkit-text-stroke:0.22px #111;">Cabo San</span>
<span class="t" style="left:15.06px;top:806.92px;font-size:12.5px;color:#111;transform:scaleX(0.9456);-webkit-text-stroke:0.22px #111;">Lucas, Mexico</span>
<span class="t" style="left:145.70px;top:796.99px;font-size:19.5px;font-weight:700;color:#000;transform:scaleX(1.0233);-webkit-text-stroke:0.35px #000;"><span style="font-size:19.5px;position:relative;top:0px">8</span><span style="font-size:19px;position:relative;top:0px">%</span></span>
<span class="t" style="left:298.36px;top:642.92px;font-size:12.5px;color:#111;transform:scaleX(0.9038);-webkit-text-stroke:0.22px #111;">Cabo San</span>
<span class="t" style="left:287.06px;top:656.22px;font-size:12.5px;color:#111;transform:scaleX(0.9494);-webkit-text-stroke:0.22px #111;">Lucas, Mexico</span>
<span class="t" style="left:418.00px;top:646.99px;font-size:19.5px;font-weight:700;color:#000;transform:scaleX(1.0377);-webkit-text-stroke:0.35px #000;"><span style="font-size:19.5px;position:relative;top:0px">8</span><span style="font-size:19px;position:relative;top:0px">%</span></span>
<span class="t" style="left:299.36px;top:683.92px;font-size:12.5px;color:#111;transform:scaleX(0.9809);-webkit-text-stroke:0.22px #111;">Myrtle Beach,</span>
<span class="t" style="left:287.06px;top:697.52px;font-size:12.5px;color:#111;transform:scaleX(0.9584);-webkit-text-stroke:0.22px #111;">South Carolina</span>
<span class="t" style="left:418.00px;top:687.79px;font-size:19.5px;font-weight:700;color:#000;transform:scaleX(1.0377);-webkit-text-stroke:0.35px #000;"><span style="font-size:19.5px;position:relative;top:0px">8</span><span style="font-size:19px;position:relative;top:0px">%</span></span>
<span class="t" style="left:300.06px;top:725.22px;font-size:12.5px;color:#111;transform:scaleX(0.9654);-webkit-text-stroke:0.22px #111;">Austin, Texas</span>
<span class="t" style="left:418.00px;top:722.79px;font-size:19.5px;font-weight:700;color:#000;transform:scaleX(1.0377);-webkit-text-stroke:0.35px #000;"><span style="font-size:19.5px;position:relative;top:0px">8</span><span style="font-size:19px;position:relative;top:0px">%</span></span>
<span class="t" style="left:299.76px;top:752.52px;font-size:12.5px;color:#111;transform:scaleX(0.9506);-webkit-text-stroke:0.22px #111;">Daytona Beach,</span>
<span class="t" style="left:287.06px;top:765.92px;font-size:12.5px;color:#111;transform:scaleX(1.0090);-webkit-text-stroke:0.22px #111;">Florida</span>
<span class="t" style="left:415.60px;top:752.41px;font-size:21px;font-family:'Liberation Serif',serif;font-weight:700;color:#000;transform:scaleX(0.9198);-webkit-text-stroke:0.35px #000;"><span style="position:relative;top:3.0px">7</span><span style="position:relative;top:0px">%</span></span>
<span class="t" style="left:300.06px;top:793.22px;font-size:12.5px;color:#111;transform:scaleX(0.9581);-webkit-text-stroke:0.22px #111;">Miami Beach,</span>
<span class="t" style="left:287.06px;top:806.92px;font-size:12.5px;color:#111;transform:scaleX(1.0090);-webkit-text-stroke:0.22px #111;">Florida</span>
<span class="t" style="left:413.60px;top:796.51px;font-size:21px;font-family:'Liberation Serif',serif;font-weight:700;color:#000;transform:scaleX(0.9294);-webkit-text-stroke:0.35px #000;"><span style="position:relative;top:0px">6</span><span style="position:relative;top:0px">%</span></span>
<span class="t" style="left:562.86px;top:642.92px;font-size:12.5px;color:#111;transform:scaleX(0.9767);-webkit-text-stroke:0.22px #111;">Tampa, Florida</span>
<span class="t" style="left:691.70px;top:637.59px;font-size:19.5px;font-weight:700;color:#000;transform:scaleX(0.9880);-webkit-text-stroke:0.35px #000;"><span style="font-size:17.6px;position:relative;top:0px">1</span><span style="font-size:19.5px;position:relative;top:2.3px">3</span><span style="font-size:19px;position:relative;top:0px">%</span></span>
<span class="t" style="left:563.86px;top:671.22px;font-size:12.5px;color:#111;transform:scaleX(0.9383);-webkit-text-stroke:0.22px #111;">Daytona Beach,</span>
<span class="t" style="left:551.56px;top:685.52px;font-size:12.5px;color:#111;transform:scaleX(0.9959);-webkit-text-stroke:0.22px #111;">Florida</span>
<span class="t" style="left:687.70px;top:674.89px;font-size:19.5px;font-weight:700;color:#000;transform:scaleX(0.9967);-webkit-text-stroke:0.35px #000;"><span style="font-size:17.6px;position:relative;top:0px">1</span><span style="font-size:17.6px;position:relative;top:0px">1</span><span style="font-size:19px;position:relative;top:0px">%</span></span>
<span class="t" style="left:564.56px;top:711.92px;font-size:12.5px;color:#111;transform:scaleX(0.9608);-webkit-text-stroke:0.22px #111;">Miami Beach,</span>
<span class="t" style="left:551.56px;top:725.52px;font-size:12.5px;color:#111;transform:scaleX(0.9959);-webkit-text-stroke:0.22px #111;">Florida</span>
<span class="t" style="left:683.70px;top:713.99px;font-size:19.5px;font-weight:700;color:#000;transform:scaleX(1.0017);-webkit-text-stroke:0.35px #000;"><span style="font-size:19.5px;position:relative;top:2.3px">9</span><span style="font-size:19px;position:relative;top:0px">%</span></span>
<span class="t" style="left:564.26px;top:753.22px;font-size:12.5px;color:#111;transform:scaleX(0.9110);-webkit-text-stroke:0.22px #111;">Cabo San</span>
<span class="t" style="left:551.56px;top:766.92px;font-size:12.5px;color:#111;transform:scaleX(0.9481);-webkit-text-stroke:0.22px #111;">Lucas, Mexico</span>
<span class="t" style="left:681.70px;top:757.09px;font-size:19.5px;font-weight:700;color:#000;transform:scaleX(1.0233);-webkit-text-stroke:0.35px #000;"><span style="font-size:19.5px;position:relative;top:0px">8</span><span style="font-size:19px;position:relative;top:0px">%</span></span>
<span class="t" style="left:564.56px;top:793.92px;font-size:12.5px;color:#111;transform:scaleX(0.9555);-webkit-text-stroke:0.22px #111;">New Orleans,</span>
<span class="t" style="left:551.56px;top:807.92px;font-size:12.5px;color:#111;transform:scaleX(0.9728);-webkit-text-stroke:0.22px #111;">Louisiana</span>
<span class="t" style="left:681.70px;top:798.09px;font-size:19.5px;font-weight:700;color:#000;transform:scaleX(1.0233);-webkit-text-stroke:0.35px #000;"><span style="font-size:19.5px;position:relative;top:0px">8</span><span style="font-size:19px;position:relative;top:0px">%</span></span>
<span class="t" style="left:14.60px;top:253.91px;font-size:17px;font-weight:700;color:#000;transform:scaleX(0.9582);-webkit-text-stroke:0.3px #000;">ILLICIT</span>
<span class="t" style="left:14.60px;top:273.91px;font-size:17px;font-weight:700;color:#000;transform:scaleX(0.9049);-webkit-text-stroke:0.3px #000;">DRUG USE</span>
<span class="t" style="left:287.30px;top:273.61px;font-size:17px;font-weight:700;color:#000;transform:scaleX(0.9431);-webkit-text-stroke:0.3px #000;">MARIJUANA</span>
<span class="t" style="left:551.60px;top:273.61px;font-size:17px;font-weight:700;color:#000;transform:scaleX(0.8826);-webkit-text-stroke:0.3px #000;">COCAINE</span>
<span class="t" style="left:14.60px;top:605.61px;font-size:17px;font-weight:700;color:#000;transform:scaleX(0.9548);-webkit-text-stroke:0.3px #000;">MDMA</span>
<span class="t" style="left:287.30px;top:585.61px;font-size:17px;font-weight:700;color:#000;transform:scaleX(0.9061);-webkit-text-stroke:0.3px #000;">LEGAL</span>
<span class="t" style="left:287.30px;top:605.31px;font-size:17px;font-weight:700;color:#000;transform:scaleX(0.9188);-webkit-text-stroke:0.3px #000;">TROUBLE</span>
<span class="t" style="left:551.60px;top:585.61px;font-size:17px;font-weight:700;color:#000;transform:scaleX(0.8828);-webkit-text-stroke:0.3px #000;">ALCOHOL</span>
<span class="t" style="left:551.60px;top:605.61px;font-size:17px;font-weight:700;color:#000;transform:scaleX(0.9226);-webkit-text-stroke:0.3px #000;">POISONING</span>
<span class="t" style="left:228.00px;top:49.36px;font-size:59px;font-weight:700;color:#333;transform:scaleX(0.9475);-webkit-text-stroke:1.5px #333;">Vice</span>
<span class="t" style="left:361.50px;top:49.36px;font-size:59px;font-weight:700;color:#333;transform:scaleX(0.9389);-webkit-text-stroke:1.5px #333;">Capitals</span>
<span class="t" style="left:248.00px;top:123.15px;font-size:22.5px;color:#fff;transform:scaleX(0.9726);-webkit-text-stroke:0.3px #ff7bac;">Top <span style="position:relative;top:3.4px">5</span> Locales for Bad Behavior,</span>
<span class="t" style="left:270.90px;top:148.75px;font-size:22.5px;color:#fff;transform:scaleX(0.9673);-webkit-text-stroke:0.3px #ff7bac;">by Percentage of Travelers</span>
<span class="t" style="left:321.00px;top:866.15px;font-size:14px;font-weight:700;color:#333;transform:scaleX(1.0360);">Source:</span>
<span class="t" style="left:377.30px;top:866.15px;font-size:14px;color:#3a3a3a;transform:scaleX(1.0614);">Survey of 88<span style="position:relative;top:2px">9</span> Spring Breakers</span>
<span class="t" style="left:590.80px;top:866.15px;font-size:14px;font-weight:700;color:#333;transform:scaleX(1.0178);">Created by:</span>
<span class="t" style="left:671.90px;top:866.15px;font-size:14px;color:#3a3a3a;transform:scaleX(1.0918);">ProjectKnow.com</span>
<span class="t n" style="left:15.60px;top:313.04px;font-size:10px;color:#2bcde4">1.</span>
<span class="t n" style="left:15.60px;top:354.34px;font-size:10px;color:#ff7bac">2.</span>
<span class="t n" style="left:15.60px;top:381.71px;font-size:10.5px;color:#ed1c24">3.</span>
<span class="t n" style="left:15.60px;top:422.34px;font-size:12px;color:#39b54a">4.</span>
<span class="t n" style="left:15.60px;top:449.01px;font-size:10.5px;color:#f7931e">5.</span>
<span class="t n" style="left:287.60px;top:313.04px;font-size:10px;color:#2bcde4">1.</span>
<span class="t n" style="left:287.60px;top:354.34px;font-size:10px;color:#ff7bac">2.</span>
<span class="t n" style="left:287.60px;top:395.71px;font-size:10.5px;color:#ed1c24">3.</span>
<span class="t n" style="left:287.60px;top:435.64px;font-size:12px;color:#39b54a">4.</span>
<span class="t n" style="left:287.60px;top:464.01px;font-size:10.5px;color:#f7931e">5.</span>
<span class="t n" style="left:552.10px;top:313.04px;font-size:10px;color:#2bcde4">1.</span>
<span class="t n" style="left:552.10px;top:340.04px;font-size:10px;color:#ff7bac">2.</span>
<span class="t n" style="left:552.10px;top:381.71px;font-size:10.5px;color:#ed1c24">3.</span>
<span class="t n" style="left:552.10px;top:422.34px;font-size:12px;color:#39b54a">4.</span>
<span class="t n" style="left:552.10px;top:464.01px;font-size:10.5px;color:#f7931e">5.</span>
<span class="t n" style="left:15.60px;top:645.03px;font-size:10px;color:#2bcde4">1.</span>
<span class="t n" style="left:15.60px;top:685.63px;font-size:10px;color:#ff7bac">2.</span>
<span class="t n" style="left:15.60px;top:728.01px;font-size:10.5px;color:#ed1c24">3.</span>
<span class="t n" style="left:15.60px;top:768.04px;font-size:12px;color:#39b54a">4.</span>
<span class="t n" style="left:15.60px;top:795.71px;font-size:10.5px;color:#f7931e">5.</span>
<span class="t n" style="left:287.60px;top:645.03px;font-size:10px;color:#2bcde4">1.</span>
<span class="t n" style="left:287.60px;top:686.03px;font-size:10px;color:#ff7bac">2.</span>
<span class="t n" style="left:287.60px;top:728.01px;font-size:10.5px;color:#ed1c24">3.</span>
<span class="t n" style="left:287.60px;top:754.64px;font-size:12px;color:#39b54a">4.</span>
<span class="t n" style="left:287.60px;top:796.01px;font-size:10.5px;color:#f7931e">5.</span>
<span class="t n" style="left:552.10px;top:645.03px;font-size:10px;color:#2bcde4">1.</span>
<span class="t n" style="left:552.10px;top:673.33px;font-size:10px;color:#ff7bac">2.</span>
<span class="t n" style="left:552.10px;top:714.71px;font-size:10.5px;color:#ed1c24">3.</span>
<span class="t n" style="left:552.10px;top:755.34px;font-size:12px;color:#39b54a">4.</span>
<span class="t n" style="left:552.10px;top:796.71px;font-size:10.5px;color:#f7931e">5.</span>
</div>
</body></html>
